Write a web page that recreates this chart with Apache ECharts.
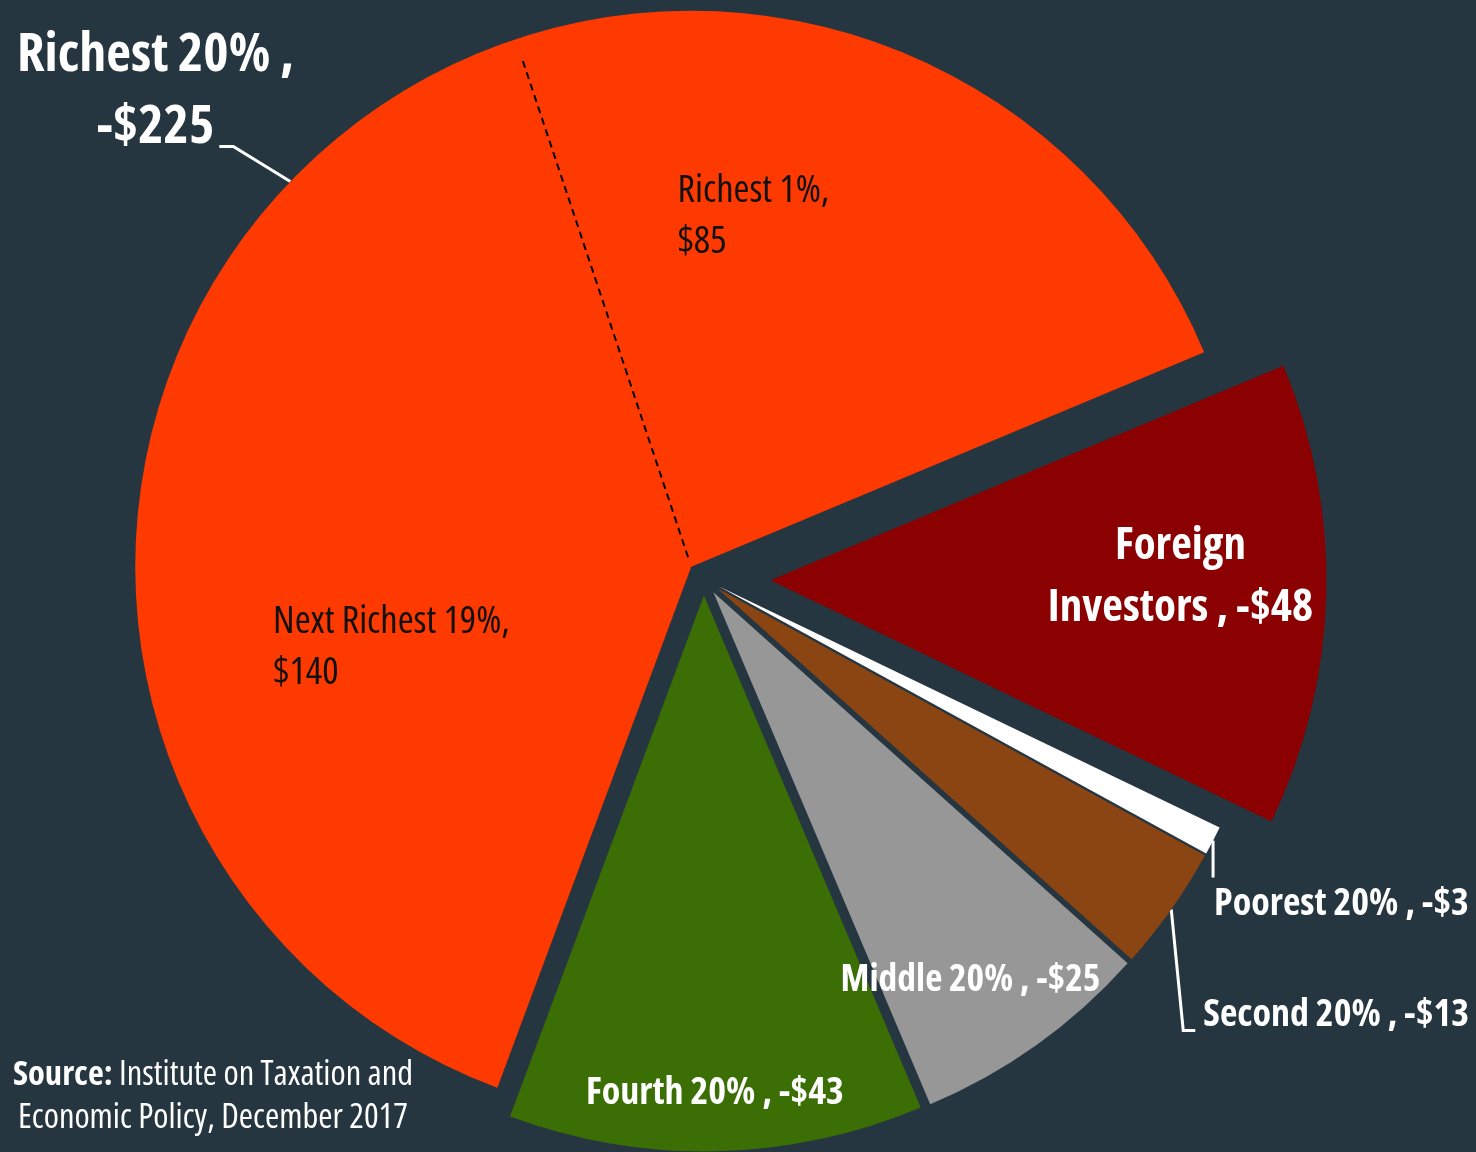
<!DOCTYPE html>
<html>
<head>
<meta charset="utf-8">
<title>Who pays for the tax cut</title>
<script src="https://cdn.jsdelivr.net/npm/echarts@6/dist/echarts.min.js"></script>
<style>
  html, body { margin: 0; padding: 0; background: #253640; }
  #main { width: 1476px; height: 1152px; }
</style>
</head>
<body>
<div id="main"></div>
<script>
// cost of the tax cut by group ($, shown as negatives)
var categories = ['Richest 20%', 'Fourth 20%', 'Middle 20%', 'Second 20%', 'Poorest 20%', 'Foreign Investors'];
var values = [225, 43, 25, 13, 3, 48];

// the richest 20% is split in two inside its slice
var richSplit = ['Richest 1%', 'Next Richest 19%'];
var richSplitValues = [85, 140];

var colors = ['#ff3a00', '#3b6e04', '#979797', '#8b4513', '#ffffff', '#8b0000'];
var explode = [17, 17, 17, 17, 17, 67];

// condensed width of the Open Sans variable font, close to the original narrow face
var FONT = "'Open Sans', sans-serif";
var STRETCH = 'condensed';
var CX = 703.5, CY = 578.5, R = 556, START = 22.7;

function sum(arr) { return arr.reduce(function (a, b) { return a + b; }, 0); }
var total = sum(values);

// angle in degrees (counter-clockwise) for a running total
function angleAt(v) { return START + v / total * 360; }
function polar(c, deg, d) {
    var a = deg * Math.PI / 180;
    return [c[0] + d * Math.cos(a), c[1] - d * Math.sin(a)];
}
function midAngle(i) { return angleAt(sum(values.slice(0, i)) + values[i] / 2); }
function sliceCenter(i) { return polar([CX, CY], midAngle(i), explode[i]); }

function labelText(i) {
    var n = categories[i], v = values[i];
    if (i === 0) return n + ' ,\n-$' + v;
    if (n === 'Foreign Investors') return 'Foreign\nInvestors , -$' + v;
    return n + ' , -$' + v;
}

// where each label goes: outside ones hang off the arc, inside ones sit on the bisector
var place = [
    { dx: -135, dy: -90, align: 'center', line: [[0, 0], [-57, -35], [-71, -35]] },
    { da: 0, d: 498 },
    { da: -2, d: 465 },
    { dx: 32, dy: 106, align: 'left', line: [[0, 0], [12, 121], [24, 121]] },
    { dx: 1, dy: 64, align: 'left', line: [[0, 0], [0, 18], [0, 37]] },
    { da: 1.9, d: 410 }
];
var labelSize = [
    { fontSize: 54, lineHeight: 72 },
    { fontSize: 38 }, { fontSize: 37.5 }, { fontSize: 38 }, { fontSize: 38 },
    { fontSize: 45, lineHeight: 62 }
];

function sliceSeries(i) {
    var c = sliceCenter(i);
    var pl = place[i];
    return {
        type: 'pie',
        silent: true,
        avoidLabelOverlap: false,
        center: c,
        radius: R,
        startAngle: START,
        clockwise: false,
        emphasis: { disabled: true },
        data: categories.map(function (name, j) {
            return {
                name: name,
                value: values[j],
                itemStyle: { color: j === i ? colors[i] : 'rgba(0,0,0,0)', borderWidth: 0 },
                label: { show: j === i },
                labelLine: { show: j === i && !!pl.line }
            };
        }),
        label: Object.assign({
            position: pl.line ? 'outside' : 'inside',
            color: '#fff',
            fontFamily: FONT,
            fontStyle: STRETCH,
            fontWeight: 'bold',
            formatter: function () { return labelText(i); }
        }, labelSize[i]),
        labelLine: { lineStyle: { color: '#fff', width: 3 } },
        labelLayout: function (p) {
            if (p.dataIndex !== i) return {};
            if (pl.line) {
                var a = polar(c, midAngle(i), R);
                return {
                    x: a[0] + pl.dx, y: a[1] + pl.dy,
                    align: pl.align, verticalAlign: 'middle',
                    labelLinePoints: pl.line.map(function (o) { return [a[0] + o[0], a[1] + o[1]]; })
                };
            }
            var q = polar(c, midAngle(i) + pl.da, pl.d);
            return { x: q[0], y: q[1], align: 'center', verticalAlign: 'middle' };
        }
    };
}

// overlay for the two parts of the richest slice
var splitNames = richSplit.concat(categories.slice(1));
var splitValues = richSplitValues.concat(values.slice(1));
var splitPlace = [{ da: 26.7, d: 350 }, { da: 12, d: 426 }];
var richCenter = sliceCenter(0);
function splitMid(k) { return angleAt(sum(splitValues.slice(0, k)) + splitValues[k] / 2); }

var splitSeries = {
    type: 'pie',
    silent: true,
    avoidLabelOverlap: false,
    center: richCenter,
    radius: R,
    startAngle: START,
    clockwise: false,
    emphasis: { disabled: true },
    data: splitNames.map(function (name, k) {
        return {
            name: name,
            value: splitValues[k],
            itemStyle: { color: 'rgba(0,0,0,0)', borderWidth: 0 },
            label: { show: k < 2 },
            labelLine: { show: false }
        };
    }),
    label: {
        position: 'inside',
        color: '#111',
        fontFamily: FONT,
        fontStyle: STRETCH,
        fontWeight: 'normal',
        fontSize: 38.5,
        lineHeight: 51,
        formatter: function (p) { return p.name + ',\n$' + p.value; }
    },
    labelLayout: function (p) {
        if (p.dataIndex > 1) return {};
        var s = splitPlace[p.dataIndex];
        var q = polar(richCenter, splitMid(p.dataIndex) + s.da, s.d);
        return { x: q[0], y: q[1], align: 'left', verticalAlign: 'middle' };
    }
};

// dashed divider between richest 1% and the next 19%
var divAngle = angleAt(richSplitValues[0]);
var d0 = polar(richCenter, divAngle, 10);
var d1 = polar(richCenter, divAngle, 536);

var myChart = echarts.init(document.getElementById('main'));
var option = {
    backgroundColor: '#253640',
    animation: false,
    textStyle: { fontFamily: FONT },
    title: {
        text: '{b|Source:} Institute on Taxation and\nEconomic Policy, December 2017',
        left: 208,
        top: 1049,
        textAlign: 'center',
        textStyle: {
            color: '#fff', fontFamily: FONT, fontStyle: STRETCH, fontWeight: 'normal', fontSize: 34.5, lineHeight: 43,
            rich: { b: { color: '#fff', fontFamily: FONT, fontStyle: STRETCH, fontWeight: 'bold', fontSize: 34.5, lineHeight: 43 } }
        }
    },
    graphic: [{
        type: 'line',
        silent: true,
        z: 100,
        shape: { x1: d0[0], y1: d0[1], x2: d1[0], y2: d1[1] },
        style: { stroke: '#000', lineWidth: 2, lineDash: [7, 5] }
    }],
    series: categories.map(function (n, i) { return sliceSeries(i); }).concat([splitSeries])
};
myChart.setOption(option);
</script>
</body>
</html>
